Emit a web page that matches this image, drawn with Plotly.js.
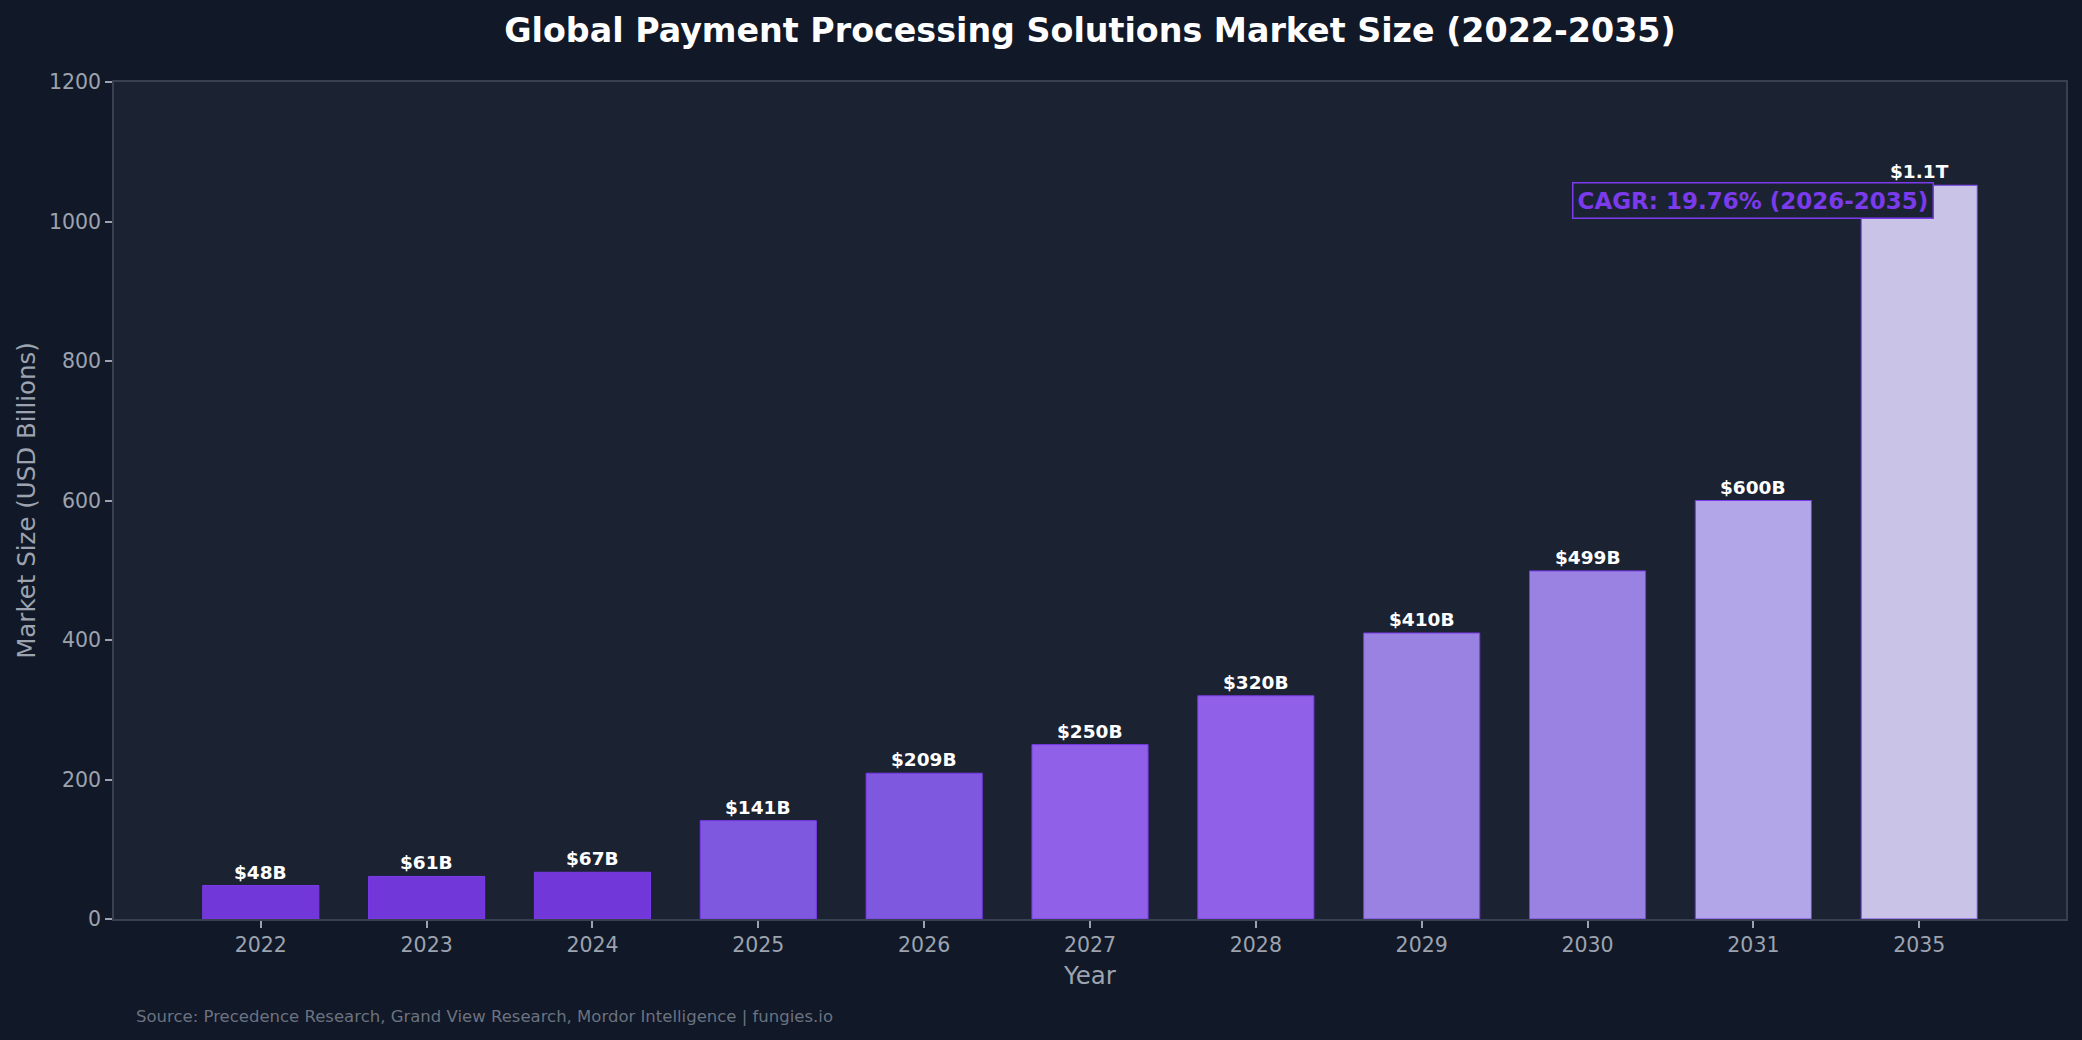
<!DOCTYPE html>
<html>
<head>
<meta charset="utf-8">
<script src="https://cdn.plot.ly/plotly-3.0.1.min.js"></script>
<style>
html, body { margin: 0; padding: 0; background: #111827; }
#chart { width: 2082px; height: 1040px; }
</style>
</head>
<body>
<div id="chart"></div>
<script>
const years = ["2022", "2023", "2024", "2025", "2026", "2027", "2028", "2029", "2030", "2031", "2035"];
const marketSize = [48, 61, 67, 141, 209, 250, 320, 410, 499, 600, 1052];
const valueLabels = ["$48B", "$61B", "$67B", "$141B", "$209B", "$250B", "$320B", "$410B", "$499B", "$600B", "$1.1T"];
const barColors = ["#7237d8", "#7237d8", "#7237d8", "#7f58e0", "#7f58e0", "#9160e8", "#9160e8", "#9a82e2", "#9a82e2", "#b2a5e8", "#c9c3e8"];
const cagrText = "CAGR: 19.76% (2026-2035)";
const cagrYear = "2031";
const cagrLevel = 1030;
const sourceText = "Source: Precedence Research, Grand View Research, Mordor Intelligence | fungies.io";

const FONT = "DejaVu Sans, sans-serif";

const trace = {
  type: "bar",
  x: years,
  y: marketSize,
  width: 0.7,
  marker: { color: barColors, line: { color: "#7c3aed", width: 1 } },
  hoverinfo: "x+y"
};

const annotations = [];

annotations.push({
  x: years.indexOf(cagrYear), y: cagrLevel, xref: "x", yref: "y",
  text: "<b>" + cagrText + "</b>",
  showarrow: false, xanchor: "center", yanchor: "middle",
  font: { family: FONT, size: 23, color: "#7c3aed" },
  bgcolor: "#1b2333", bordercolor: "#7c3aed", borderwidth: 1.5, borderpad: 4
});

// category axis: annotation x uses the category's serial index
years.forEach((yr, i) => {
  annotations.push({
    x: years.indexOf(yr), y: marketSize[i], xref: "x", yref: "y",
    text: "<b>" + valueLabels[i] + "</b>",
    showarrow: false, xanchor: "center", yanchor: "bottom", yshift: 1,
    font: { family: FONT, size: 18.5, color: "#ffffff" }
  });
});

annotations.push({
  x: 0.0102, y: -0.116, xref: "paper", yref: "paper",
  text: sourceText, showarrow: false, xanchor: "left", yanchor: "middle",
  font: { family: FONT, size: 16.5, color: "#6b7280" }
});

const layout = {
  width: 2082, height: 1040,
  paper_bgcolor: "#111827",
  plot_bgcolor: "#1b2333",
  margin: { l: 114, r: 16, t: 82, b: 121 },
  font: { family: FONT, color: "#9ca3af" },
  title: {
    text: "<b>Global Payment Processing Solutions Market Size (2022-2035)</b>",
    font: { family: FONT, size: 33.3, color: "#ffffff" },
    x: 0.5, xref: "paper", xanchor: "center",
    y: 1 - 30 / 1040, yref: "container", yanchor: "middle"
  },
  xaxis: {
    type: "category",
    range: [-0.885, 10.885],
    showgrid: false, zeroline: false,
    showline: true, linecolor: "#374151", linewidth: 1.5, mirror: true,
    ticks: "outside", ticklen: 7, tickwidth: 1.5, tickcolor: "#9ca3af",
    tickfont: { family: FONT, size: 20.5, color: "#9ca3af" },
    title: { text: "Year", font: { family: FONT, size: 24.5, color: "#9ca3af" }, standoff: 11 }
  },
  yaxis: {
    range: [0, 1200],
    tickvals: [0, 200, 400, 600, 800, 1000, 1200],
    showgrid: false, zeroline: false,
    showline: true, linecolor: "#374151", linewidth: 1.5, mirror: true,
    ticks: "outside", ticklen: 7, tickwidth: 1.5, tickcolor: "#9ca3af",
    tickfont: { family: FONT, size: 20.5, color: "#9ca3af" },
    title: { text: "Market Size (USD Billions)", font: { family: FONT, size: 24.5, color: "#9ca3af" }, standoff: 6 }
  },
  annotations: annotations,
  showlegend: false,
  bargap: 0.3
};

Plotly.newPlot("chart", [trace], layout, { displayModeBar: false, responsive: false });
</script>
</body>
</html>
